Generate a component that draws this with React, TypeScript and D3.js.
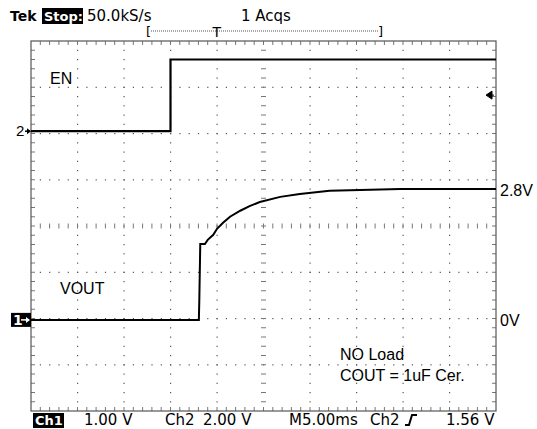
import React from "react";
import * as d3 from "d3";

// scope settings
const TIME_RANGE_MS = [-15, 35]; // 5 ms/div, trigger at 3 div
const CH1_RANGE_V = [-1.97, 6.03]; // 1 V/div
const CH2_RANGE_V = [-12.1, 3.9]; // 2 V/div
const TRIG_LEVEL_V = 1.56;

// EN (Ch2)
const EN_T = [-15, 0, 0, 35];
const EN_V = [0, 0, 3.1, 3.1];

// VOUT (Ch1)
const VOUT_T = [-15, 3.05, 3.1, 3.2, 3.7, 4.0, 4.6, 5.0, 5.65, 6.4, 7.5, 8.5, 9.6, 11.8, 13.9, 17.1, 20.4, 24.7, 35];
const VOUT_V = [0, 0, 0.45, 1.64, 1.64, 1.73, 1.84, 1.97, 2.1, 2.23, 2.36, 2.46, 2.55, 2.66, 2.72, 2.79, 2.81, 2.83, 2.83];

const TOP_LABELS = ["50.0kS/s", "1 Acqs"];
const BOTTOM_LABELS = ["1.00 V", "Ch2", "2.00 V", "M5.00ms", "Ch2", "1.56 V"];

const W = 537, H = 429;
const L = 31, R = 496, T = 41, B = 411;
const tek = "'DejaVu Sans', sans-serif";
const arial = "'Liberation Sans', Arial, sans-serif";

export default function App() {
  const x = d3.scaleLinear().domain(TIME_RANGE_MS).range([L, R]);
  const y1 = d3.scaleLinear().domain(CH1_RANGE_V).range([B, T]);
  const y2 = d3.scaleLinear().domain(CH2_RANGE_V).range([B, T]);
  const dx = (R - L) / 10, dy = (B - T) / 8;
  const cx = L + 5 * dx, cy = T + 4 * dy;

  const enLine = d3.line<number>().x((_, i) => x(EN_T[i])).y(v => y2(v));
  const voutLine = d3.line<number>().x((_, i) => x(VOUT_T[i])).y(v => y1(v));

  // grid dots / ticks
  const marks: JSX.Element[] = [];
  for (let i = 1; i < 10; i++) {
    if (i === 5) continue;
    for (let k = 1; k < 40; k++) {
      marks.push(<rect key={`v${i}-${k}`} x={L + i * dx - 0.5} y={T + (k * dy) / 5 - 0.5} width={1.2} height={1.2} fill="#555" />);
    }
  }
  for (let j = 1; j < 8; j++) {
    if (j === 4) continue;
    for (let k = 1; k < 50; k++) {
      marks.push(<rect key={`h${j}-${k}`} x={L + (k * dx) / 5 - 0.5} y={T + j * dy - 0.5} width={1.2} height={1.2} fill="#555" />);
    }
  }
  // center cross + edge ticks
  for (let k = 1; k < 50; k++) {
    const px = L + (k * dx) / 5;
    marks.push(<line key={`ct${k}`} x1={px} x2={px} y1={cy - 2.5} y2={cy + 2.5} stroke="#777" strokeWidth={1} />);
    marks.push(<line key={`tt${k}`} x1={px} x2={px} y1={T} y2={T + 4} stroke="#777" strokeWidth={1} />);
    marks.push(<line key={`bt${k}`} x1={px} x2={px} y1={B - 4} y2={B} stroke="#777" strokeWidth={1} />);
  }
  for (let k = 1; k < 40; k++) {
    const py = T + (k * dy) / 5;
    marks.push(<line key={`cv${k}`} x1={cx - 2.5} x2={cx + 2.5} y1={py} y2={py} stroke="#777" strokeWidth={1} />);
    marks.push(<line key={`lt${k}`} x1={L} x2={L + 4} y1={py} y2={py} stroke="#777" strokeWidth={1} />);
    marks.push(<line key={`rt${k}`} x1={R - 4} x2={R} y1={py} y2={py} stroke="#777" strokeWidth={1} />);
  }

  const trigY = y2(TRIG_LEVEL_V);
  const gnd1 = y1(0), gnd2 = y2(0);
  const bracketL = 146, bracketR = 382, trigX = bracketL + 0.3 * (bracketR - bracketL);

  return (
    <svg width={W} height={H} style={{ position: "absolute", left: 0, top: 0, background: "#fff" }}>
      <g fontFamily={tek} fontSize={15} fill="#000">
        {/* header */}
        <text x={10} y={21} fontWeight="bold" fontSize={14}>Tek</text>
        <rect x={42} y={8} width={41} height={16} fill="#000" />
        <text x={44} y={21} fill="#fff" fontWeight="bold" fontSize={13}>Stop:</text>
        <text x={87} y={21}>{TOP_LABELS[0]}</text>
        <text x={241} y={21}>{TOP_LABELS[1]}</text>
        <text x={bracketL} y={36} fontSize={13}>[</text>
        <text x={bracketR - 4} y={36} fontSize={13}>]</text>
        <line x1={bracketL + 5} x2={bracketR - 4} y1={31} y2={31} stroke="#555" strokeDasharray="1,1" />
        <text x={trigX} y={37} textAnchor="middle" fontSize={14}>T</text>

        {/* footer */}
        <rect x={33} y={413} width={31} height={15} fill="#000" />
        <text x={35} y={425} fill="#fff" fontWeight="bold" fontSize={13}>Ch1</text>
        <text x={84} y={425}>{BOTTOM_LABELS[0]}</text>
        <text x={165} y={425}>{BOTTOM_LABELS[1]}</text>
        <text x={203} y={425}>{BOTTOM_LABELS[2]}</text>
        <text x={289} y={425}>{BOTTOM_LABELS[3]}</text>
        <text x={370} y={425}>{BOTTOM_LABELS[4]}</text>
        <path d="M405,425 L409,425 L412,415 L417,415" fill="none" stroke="#000" strokeWidth={2} />
        <text x={446} y={425}>{BOTTOM_LABELS[5]}</text>
      </g>

      {/* graticule */}
      <g>{marks}</g>
      <rect x={L} y={T} width={R - L} height={B - T} fill="none" stroke="#555" strokeWidth={1.2} />

      {/* traces */}
      <path d={enLine(EN_V) || ""} fill="none" stroke="#000" strokeWidth={2.2} />
      <path d={voutLine(VOUT_V) || ""} fill="none" stroke="#000" strokeWidth={2} />

      {/* channel markers */}
      <text x={16} y={gnd2 + 5} fontFamily={arial} fontSize={15}>2</text>
      <path d={`M25,${gnd2} L30,${gnd2}`} stroke="#000" fill="none" strokeWidth={1.5} />
      <path d={`M27,${gnd2 - 3} L31,${gnd2} L27,${gnd2 + 3} Z`} fill="#000" />
      <rect x={11} y={gnd1 - 7} width={20} height={14} fill="#000" />
      <text x={13} y={gnd1 + 5} fontFamily={tek} fontSize={14} fontWeight="bold" fill="#fff">1</text>
      <path d={`M21,${gnd1} L28,${gnd1}`} stroke="#fff" fill="none" strokeWidth={1.5} />
      <path d={`M26,${gnd1 - 3} L30,${gnd1} L26,${gnd1 + 3} Z`} fill="#fff" />
      <path d={`M486,${trigY} L492,${trigY - 4} L492,${trigY + 4} Z M490,${trigY} L494,${trigY}`} fill="#000" stroke="#000" strokeWidth={1} />

      {/* annotations */}
      <g fontFamily={arial} fontSize={16} fill="#000">
        <text x={50} y={84}>EN</text>
        <text x={60} y={294}>VOUT</text>
        <text x={500} y={y1(2.8) + 6}>2.8V</text>
        <text x={500} y={gnd1 + 6}>0V</text>
        <text x={340} y={360}>NO Load</text>
        <text x={340} y={381}>COUT = 1uF Cer.</text>
      </g>
    </svg>
  );
}
